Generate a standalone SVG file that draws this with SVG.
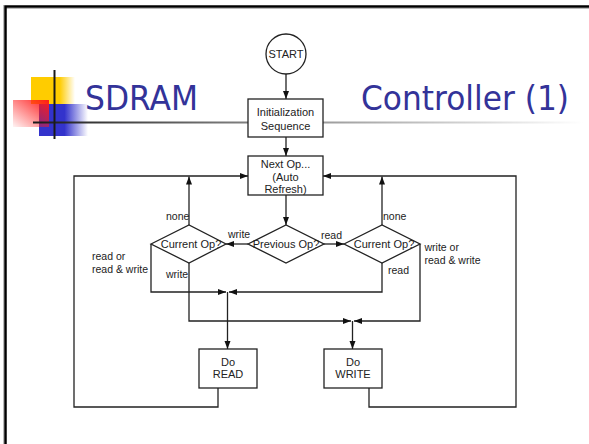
<svg xmlns="http://www.w3.org/2000/svg" width="589" height="444" viewBox="0 0 589 444">
  <defs>
    <linearGradient id="gYellow" x1="0" y1="0" x2="1" y2="0">
      <stop offset="0" stop-color="#FFCC00"/>
      <stop offset="0.65" stop-color="#FFCC00"/>
      <stop offset="1" stop-color="#FFCC00" stop-opacity="0"/>
    </linearGradient>
    <linearGradient id="gBlue" x1="0" y1="0" x2="1" y2="0">
      <stop offset="0" stop-color="#3333CC"/>
      <stop offset="0.52" stop-color="#3333CC"/>
      <stop offset="1" stop-color="#3333CC" stop-opacity="0"/>
    </linearGradient>
    <linearGradient id="gRed" x1="1" y1="0" x2="0" y2="1">
      <stop offset="0" stop-color="#FF1A1A"/>
      <stop offset="1" stop-color="#FF1A1A" stop-opacity="0.05"/>
    </linearGradient>
    <linearGradient id="gRule" x1="0" y1="0" x2="1" y2="0">
      <stop offset="0" stop-color="#1a1a1a"/>
      <stop offset="0.35" stop-color="#777777"/>
      <stop offset="1" stop-color="#ffffff"/>
    </linearGradient>
    <marker id="arrow" markerUnits="userSpaceOnUse" markerWidth="8" markerHeight="8" viewBox="0 0 8 8" refX="8" refY="4" orient="auto">
      <path d="M0,1 L8,4 L0,7 Z" fill="#111"/>
    </marker>
    <style>
      .frame { stroke: #000; stroke-width: 2.5; fill: none; }
      .shadow { stroke: #bbb; stroke-width: 1; fill: none; }
      .title { font-family: "DejaVu Sans", Verdana, sans-serif; font-size: 34px; fill: #333399; }
      .node { fill: #fff; stroke: #222; stroke-width: 1.3; }
      .txt { font-family: "Liberation Sans", Arial, sans-serif; font-size: 11px; fill: #222; text-anchor: middle; }
      .lbl { font-family: "Liberation Sans", Arial, sans-serif; font-size: 10.5px; fill: #222; }
      .conn { fill: none; stroke: #222; stroke-width: 1.3; }
      .arr { marker-end: url(#arrow); }
    </style>
  </defs>

  <rect width="589" height="444" fill="#fff"/>

  <!-- slide frame -->
  <g id="frame">
    <path class="shadow" d="M3.5,444 V5 M5,8.5 H589"/>
    <path class="frame" d="M5.5,444 V6.5 H589"/>
  </g>

  <!-- title decoration -->
  <g id="logo">
    <rect x="31" y="77" width="44" height="27" fill="url(#gYellow)"/>
    <rect x="39" y="104" width="49" height="32" fill="url(#gBlue)"/>
    <rect x="13" y="100" width="36" height="27" fill="url(#gRed)"/>
    <rect x="33" y="121.5" width="550" height="2" fill="url(#gRule)"/>
    <line x1="54.5" y1="70" x2="54.5" y2="139" stroke="#1a1a1a" stroke-width="2"/>
  </g>

  <g id="title">
    <text class="title" x="85" y="110" textLength="113" lengthAdjust="spacingAndGlyphs">SDRAM</text>
    <text class="title" x="361" y="110" textLength="208" lengthAdjust="spacingAndGlyphs">Controller (1)</text>
  </g>

  <!-- connectors -->
  <g id="connectors">
    <path class="conn arr" d="M286,74 V99"/>
    <path class="conn arr" d="M286,137 V156"/>
    <path class="conn arr" d="M286,195 V225"/>
    <path class="conn arr" d="M248,244 H226"/>
    <path class="conn arr" d="M324,244 H344"/>
    <path class="conn arr" d="M189,225 V176.5"/>
    <path class="conn arr" d="M382,225 V176.5"/>
    <path class="conn arr" d="M151,244 V292 H226"/>
    <path class="conn arr" d="M382,263 V292 H229"/>
    <path class="conn arr" d="M227.5,292 V349"/>
    <path class="conn arr" d="M189,263 V321 H351"/>
    <path class="conn arr" d="M420,244 V321 H354"/>
    <path class="conn arr" d="M352.5,321 V349"/>
    <path class="conn arr" d="M218,388 V407 H74 V176 H248"/>
    <path class="conn arr" d="M369,388 V407 H516 V176 H323"/>
  </g>

  <g id="start">
    <circle class="node" cx="286" cy="54" r="20"/>
    <text class="txt" x="286" y="58">START</text>
  </g>

  <g id="init">
    <rect class="node" x="248" y="99" width="75" height="38"/>
    <text class="txt" x="285.5" y="116">Initialization</text>
    <text class="txt" x="285.5" y="129.5">Sequence</text>
  </g>

  <g id="nextop">
    <rect class="node" x="248" y="156" width="75" height="39"/>
    <text class="txt" x="285.5" y="168">Next Op...</text>
    <text class="txt" x="285.5" y="180.5">(Auto</text>
    <text class="txt" x="285.5" y="193">Refresh)</text>
  </g>

  <g id="prevop">
    <polygon class="node" points="248,244 286,225 324,244 286,263"/>
    <text class="txt" x="286" y="248">Previous Op?</text>
  </g>

  <g id="curop-left">
    <polygon class="node" points="151,244 189,225 226,244 189,263"/>
    <text class="txt" x="191" y="248">Current Op?</text>
  </g>

  <g id="curop-right">
    <polygon class="node" points="344,244 382,225 420,244 382,263"/>
    <text class="txt" x="384" y="248">Current Op?</text>
  </g>

  <g id="doread">
    <rect class="node" x="199" y="349" width="58" height="39"/>
    <text class="txt" x="228" y="365.5">Do</text>
    <text class="txt" x="228" y="378">READ</text>
  </g>

  <g id="dowrite">
    <rect class="node" x="324" y="349" width="58" height="39"/>
    <text class="txt" x="353" y="365.5">Do</text>
    <text class="txt" x="353" y="378">WRITE</text>
  </g>

  <!-- edge labels -->
  <g id="labels">
    <text class="lbl" x="228" y="238">write</text>
    <text class="lbl" x="321" y="238.5">read</text>
    <text class="lbl" x="166" y="219.5">none</text>
    <text class="lbl" x="383" y="219.5">none</text>
    <text class="lbl" x="92" y="260">read or</text>
    <text class="lbl" x="92" y="272.5">read &amp; write</text>
    <text class="lbl" x="166" y="278">write</text>
    <text class="lbl" x="424.5" y="251">write or</text>
    <text class="lbl" x="424.5" y="263.5">read &amp; write</text>
    <text class="lbl" x="388" y="274">read</text>
  </g>
</svg>
